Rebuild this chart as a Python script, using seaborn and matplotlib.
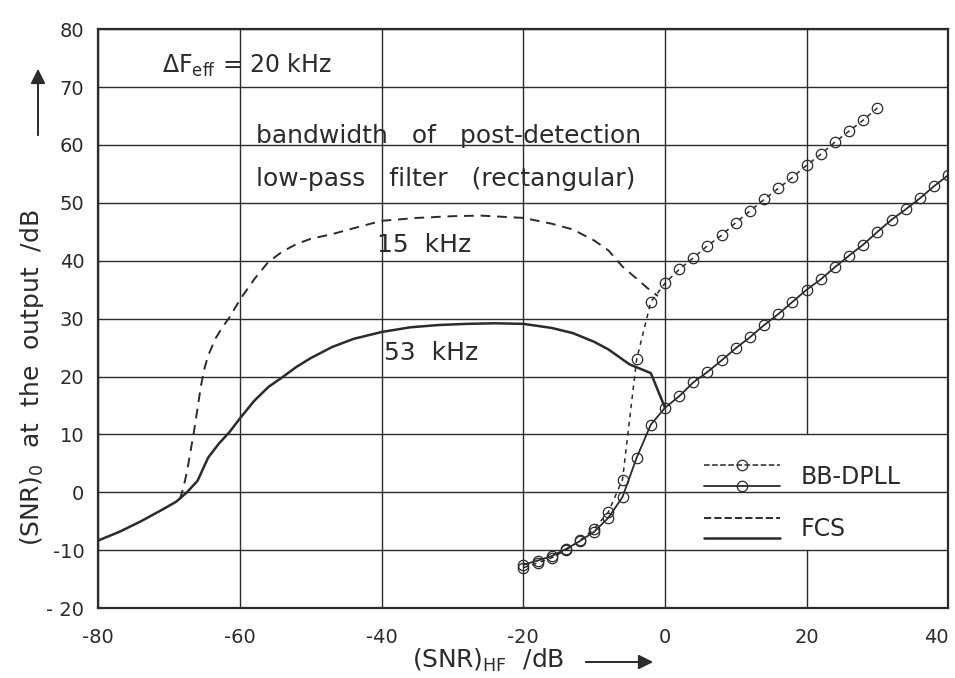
import matplotlib
matplotlib.use("Agg")
import matplotlib.pyplot as plt
from matplotlib.legend_handler import HandlerBase
from matplotlib.lines import Line2D
import seaborn as sns

# FCS, 53 kHz post-detection low-pass filter (solid line)
fcs53_x = [-80, -77, -74, -71, -69, -67.5, -66, -64.5, -63, -61.5, -60, -58,
           -56, -54, -52, -50, -47, -44, -40, -36, -32, -28, -24, -20, -16,
           -13, -10, -8, -5, -2, 0]
fcs53_y = [-8.3, -6.8, -5.0, -3.0, -1.6, 0.0, 2.0, 6.0, 8.4, 10.4, 12.8, 15.8,
           18.2, 19.9, 21.7, 23.2, 25.1, 26.5, 27.7, 28.5, 28.9, 29.1, 29.2,
           29.1, 28.4, 27.5, 26.0, 24.7, 22.1, 20.6, 14.6]

# FCS, 15 kHz (dashed line)
fcs15_x = [-68.5, -68, -67.5, -67, -66.5, -66, -65.5, -65, -64.5, -63.5,
           -62.5, -61.5, -60, -58, -56, -54, -52, -50, -47, -44, -40, -35,
           -30, -26, -20, -16, -13, -10, -8, -6, -4, -2.5, -1]
fcs15_y = [-1.2, 0.8, 3.5, 7.0, 10.5, 14.5, 18.5, 21.5, 23.6, 26.5, 28.5,
           30.2, 33.3, 36.8, 39.8, 41.6, 42.9, 43.8, 44.6, 45.6, 46.9, 47.4,
           47.7, 47.8, 47.4, 46.4, 45.4, 43.5, 41.8, 39.0, 36.9, 35.3, 33.9]

# BB-DPLL, 15 kHz (dashed line with circles)
dpll15_x = [-20, -18, -16, -14, -12, -10, -8, -6, -4, -2, 0, 2, 4, 6, 8, 10,
            12, 14, 16, 18, 20, 22, 24, 26, 28, 30]
dpll15_y = [-13.0, -12.2, -11.3, -10.0, -8.3, -6.3, -3.4, 2.2, 23.0, 32.9,
            36.1, 38.5, 40.5, 42.6, 44.4, 46.6, 48.6, 50.6, 52.5, 54.4, 56.5,
            58.4, 60.5, 62.4, 64.3, 66.4]

# BB-DPLL, 53 kHz (solid line with circles)
dpll53_x = [-20, -18, -16, -14, -12, -10, -8, -6, -4, -2, 0, 2, 4, 6, 8, 10,
            12, 14, 16, 18, 20, 22, 24, 26, 28, 30, 32, 34, 36, 38, 40]
dpll53_y = [-12.5, -11.8, -11.0, -9.8, -8.4, -6.8, -4.4, -0.8, 6.0, 11.7,
            14.6, 16.6, 19.0, 20.8, 22.8, 24.9, 26.8, 28.9, 30.8, 32.9, 35.0,
            36.8, 38.9, 40.9, 42.8, 45.0, 47.1, 48.9, 50.8, 52.9, 54.8]

x_ticks = [-80, -60, -40, -20, 0, 20, 40]
x_tick_labels = ["-80", "-60", "-40", "-20", "0", "20", "40"]
y_ticks = [-20, -10, 0, 10, 20, 30, 40, 50, 60, 70, 80]
y_tick_labels = ["- 20", "-10", "0", "10", "20", "30", "40", "50", "60",
                 "70", "80"]

INK = "#2b2b2b"


class StackedHandler(HandlerBase):
    """Draw a pair of legend lines one above the other."""

    def create_artists(self, legend, orig_handle, xdescent, ydescent,
                       width, height, fontsize, trans):
        artists = []
        x0, x1 = -xdescent, -xdescent + width
        for handle, frac in zip(orig_handle, (1.0, 0.0)):
            y = -ydescent + height * frac
            ln = Line2D([x0, x1], [y, y], color=handle.get_color(),
                        linestyle=handle.get_linestyle(),
                        linewidth=handle.get_linewidth())
            ln.set_transform(trans)
            artists.append(ln)
            if handle.get_marker() not in (None, "None", "", " "):
                mk = Line2D([(x0 + x1) / 2], [y], marker="o", linestyle="none",
                            markersize=handle.get_markersize(),
                            markerfacecolor="none",
                            markeredgecolor=handle.get_color(),
                            markeredgewidth=handle.get_markeredgewidth())
                mk.set_transform(trans)
                artists.append(mk)
        return artists


sns.set_style("white")
plt.rcParams["font.family"] = ["DejaVu Sans"]
plt.rcParams["text.color"] = INK

fig = plt.figure(figsize=(9.55, 6.78), dpi=100)
ax = fig.add_axes([0.103, 0.103, 0.890, 0.854])

# grid (the vertical line at 20 is left open behind the legend)
for yt in y_ticks:
    ax.axhline(yt, color=INK, linewidth=1.0, zorder=1)
for xt in x_ticks:
    if xt == 20:
        ax.axvline(xt, ymax=0.10, color=INK, linewidth=1.0, zorder=1)
        ax.axvline(xt, ymin=0.30, color=INK, linewidth=1.0, zorder=1)
    else:
        ax.axvline(xt, color=INK, linewidth=1.0, zorder=1)

sns.lineplot(x=fcs53_x, y=fcs53_y, ax=ax, color=INK, linewidth=1.8,
             sort=False, errorbar=None, zorder=3)
sns.lineplot(x=fcs15_x, y=fcs15_y, ax=ax, color=INK, linewidth=1.4,
             linestyle=(0, (5, 3.5)), sort=False, errorbar=None, zorder=3)
sns.lineplot(x=dpll15_x, y=dpll15_y, ax=ax, color=INK, linewidth=1.1,
             linestyle=(0, (3, 3)), marker="o", markersize=7.5,
             markerfacecolor="none", markeredgecolor=INK,
             markeredgewidth=0.9, sort=False, errorbar=None, zorder=3)
sns.lineplot(x=dpll53_x, y=dpll53_y, ax=ax, color=INK, linewidth=1.3,
             marker="o", markersize=7.5, markerfacecolor="none",
             markeredgecolor=INK, markeredgewidth=0.9, sort=False,
             errorbar=None, zorder=3)

l_fcs53, l_fcs15, l_dpll15, l_dpll53 = ax.get_lines()[-4:]

ax.set_xlim(-80, 40)
ax.set_ylim(-20, 80)
ax.set_xticks(x_ticks)
ax.set_xticklabels(x_tick_labels)
ax.set_yticks(y_ticks)
ax.set_yticklabels(y_tick_labels)
ax.tick_params(axis="both", length=0, labelsize=14, colors=INK)
ax.tick_params(axis="x", pad=14)
ax.tick_params(axis="y", pad=10)
ax.get_xticklabels()[-1].set_horizontalalignment("right")
for sp in ax.spines.values():
    sp.set_color(INK)
    sp.set_linewidth(1.6)
ax.set_xlabel("")
ax.set_ylabel("")

# annotations
ax.text(-71, 73.8, r"$\Delta$F$_{\mathrm{eff}}$ = 20 kHz", fontsize=17,
        va="center", ha="left")
ax.text(-57.7, 61.6, "bandwidth   of   post-detection", fontsize=18,
        va="center", ha="left")
ax.text(-57.7, 54.2, "low-pass   filter   (rectangular)", fontsize=18,
        va="center", ha="left")
ax.text(-34.0, 42.8, "15  kHz", fontsize=18, va="center", ha="center")
ax.text(-33.0, 24.0, "53  kHz", fontsize=18, va="center", ha="center")

ax.legend(handles=[(l_dpll15, l_dpll53), (l_fcs15, l_fcs53)],
          labels=["BB-DPLL", "FCS"], handler_map={tuple: StackedHandler()},
          loc="upper left", bbox_to_anchor=(5.5, 4.8),
          bbox_transform=ax.transData, frameon=False, fontsize=17,
          handlelength=3.2, handleheight=0.95, handletextpad=0.9,
          labelspacing=1.2, borderpad=0, borderaxespad=0)

# axis titles with arrows
fig.text(32 / 955, 1 - 378 / 678, "(SNR)$_0$  at  the  output  /dB",
         rotation=90, ha="center", va="center", fontsize=18)
fig.text(488 / 955, 1 - 668 / 678, r"(SNR)$_{\mathrm{HF}}$  /dB", ha="center",
         va="baseline", fontsize=18)
ax.annotate("", xy=(38 / 955, 1 - 66 / 678), xytext=(38 / 955, 1 - 138 / 678),
            xycoords="figure fraction",
            arrowprops=dict(arrowstyle="-|>", color=INK, lw=1.4,
                            mutation_scale=22))
ax.annotate("", xy=(656 / 955, 1 - 662 / 678), xytext=(583 / 955, 1 - 662 / 678),
            xycoords="figure fraction",
            arrowprops=dict(arrowstyle="-|>", color=INK, lw=1.4,
                            mutation_scale=22))

fig.savefig("out.png", dpi=100, facecolor="white")
